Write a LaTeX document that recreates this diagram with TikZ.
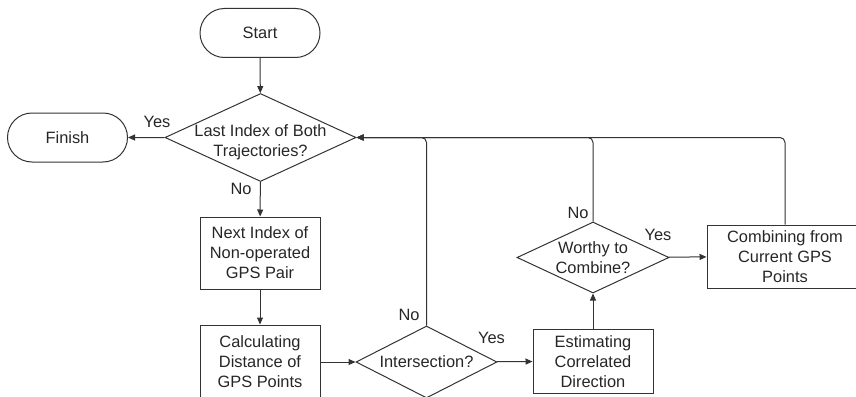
\documentclass[tikz,border=0pt]{standalone}
\usepackage{fontspec}
\setmainfont{Liberation Sans}
\usetikzlibrary{shapes.geometric,shapes.misc,arrows.meta}
\begin{document}
\begin{tikzpicture}[x=1pt,y=-1pt,
  font=\fontsize{16.4pt}{20pt}\selectfont,
  every node/.style={text=black!85},
  line/.style={draw=black!80,line width=1pt},
  arr/.style={line,-{Triangle[length=7pt,width=6pt]}},
  back/.style={arr,rounded corners=5pt},
  terminal/.style={rounded rectangle,line,minimum width=120pt,minimum height=49pt,inner sep=0pt},
  process/.style={rectangle,line,minimum width=120pt,align=center,inner sep=0pt},
  decision/.style={diamond,line,inner sep=0pt},
  lbl/.style={inner sep=0pt}]
\useasboundingbox (0,0) rectangle (856,396);

% terminals
\node[terminal] (start) at (260,33) {Start};
\node[terminal] (finish) at (67.5,137.5) {Finish};

% decisions (text set as a centred label so the shape keeps its size)
\node[decision,minimum width=191pt,minimum height=88pt,
  label={[align=center,yshift=-5pt]center:Last Index of Both\\Trajectories?}] (last) at (260.5,137.5) {};
\node[decision,minimum width=141pt,minimum height=72pt,
  label={center:Intersection?}] (inter) at (426.5,362) {};
\node[decision,minimum width=152pt,minimum height=71pt,
  label={[align=center]center:Worthy to\\Combine?}] (worthy) at (593,257.5) {};

% processes
\node[process,minimum height=72pt] (next) at (260,253) {Next Index of\\Non-operated\\GPS Pair};
\node[process,minimum height=74pt] (calc) at (260,362) {Calculating\\Distance of\\GPS Points};
\node[process,minimum height=64pt] (est) at (593,361.3) {Estimating\\Correlated\\Direction};
\node[process,minimum width=156pt,minimum height=63pt] (comb) at (785,256.5) {Combining from\\Current GPS\\Points};

% main flow
\draw[arr] (start) -- (last);
\draw[arr] (last) -- (finish);
\draw[arr] (last) -- (next);
\draw[arr] (next) -- (calc);
\draw[arr] (calc) -- (inter);
\draw[arr] (inter) -- (est);
\draw[arr] (est) -- (worthy);
\draw[arr] (worthy) -- (comb);

% loops back to the index check
\draw[back] (comb.north) |- (last.east);
\draw[back] (worthy.north) |- (last.east);
\draw[back] (inter.north) |- (last.east);

% branch labels
\node[lbl] (yes1) at (157,122) {Yes};
\node[lbl] (no1) at (241,189) {No};
\node[lbl] (no2) at (409,315) {No};
\node[lbl] (yes2) at (491.5,338) {Yes};
\node[lbl] (no3) at (578,213) {No};
\node[lbl] (yes3) at (658,235) {Yes};
\end{tikzpicture}
\end{document}
